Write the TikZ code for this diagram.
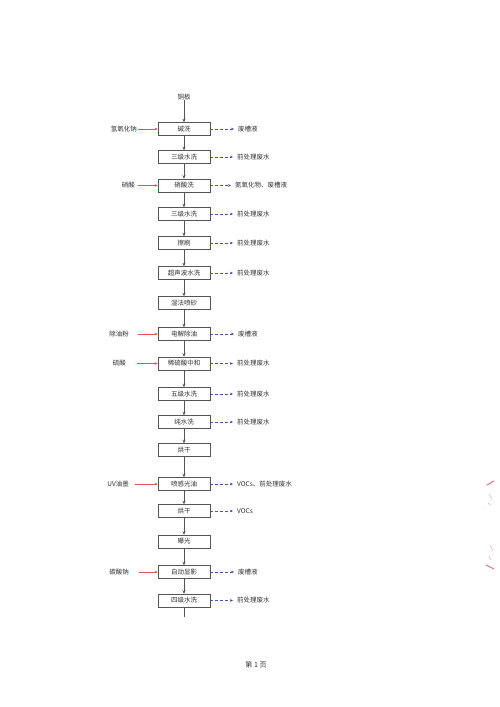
\documentclass[tikz,border=0pt]{standalone}
\usepackage{fontspec}
\setmainfont{Noto Sans CJK SC}
\usetikzlibrary{arrows.meta}
\definecolor{boxline}{HTML}{555555}
\definecolor{txt}{HTML}{333333}
\definecolor{inred}{HTML}{E05545}
\definecolor{outblue}{HTML}{4A55A0}
\definecolor{stamp}{HTML}{D9506E}
\begin{document}
\begin{tikzpicture}[x=1pt,y=-1pt,
  proc/.style={draw=boxline, line width=0.5pt, minimum width=52pt, minimum height=13pt,
    inner sep=0pt, font=\fontsize{6.5pt}{7pt}\selectfont, text=txt},
  lbl/.style={inner sep=0pt, font=\fontsize{6.5pt}{7pt}\selectfont, text=txt},
  flow/.style={draw=boxline, line width=0.5pt, -{Stealth[length=3.5pt,width=3pt]}},
  inarr/.style={draw=inred, line width=0.45pt, -{Stealth[length=3pt,width=2.6pt]}},
  outarr/.style={draw=outblue, densely dashed, line width=0.45pt, -{Stealth[length=3pt,width=2.6pt]}}]
\useasboundingbox (0,0) rectangle (500,707);
\fill[white] (0,0) rectangle (500,707);

% top input
\node[lbl] (cu) at (184,97) {铜板};

% process boxes
\node[proc] (b1)  at (184,129) {碱洗};
\node[proc] (b2)  at (184,157) {三级水洗};
\node[proc] (b3)  at (184,185.5) {硝酸洗};
\node[proc] (b4)  at (184,214) {三级水洗};
\node[proc] (b5)  at (184,243) {擦刷};
\node[proc] (b6)  at (184,273) {超声波水洗};
\node[proc] (b7)  at (184,303) {湿法喷砂};
\node[proc] (b8)  at (184,334) {电解除油};
\node[proc] (b9)  at (184,363.5) {稀硫酸中和};
\node[proc] (b10) at (184,394) {五级水洗};
\node[proc] (b11) at (184,422) {纯水洗};
\node[proc] (b12) at (184,450) {烘干};
\node[proc] (b13) at (184,484) {喷感光油};
\node[proc] (b14) at (184,511) {烘干};
\node[proc] (b15) at (184,541.5) {曝光};
\node[proc] (b16) at (184,572) {自动显影};
\node[proc] (b17) at (184,600.5) {四级水洗};
\coordinate (end) at (184,617);

% main flow
\draw[flow] (cu) -- (b1);
\foreach \a/\b in {b1/b2,b2/b3,b3/b4,b4/b5,b5/b6,b6/b7,b7/b8,b8/b9,b9/b10,b10/b11,b11/b12,b12/b13,b13/b14,b14/b15,b15/b16,b16/b17}
  \draw[flow] (\a) -- (\b);
\draw[draw=boxline, line width=0.5pt] (b17) -- (end);

% left inputs
\node[lbl, anchor=east] (i1) at (137,129) {氢氧化钠};
\node[lbl, anchor=east] (i3) at (135,185.5) {硝酸};
\node[lbl, anchor=east] (i8) at (129,334) {除油粉};
\node[lbl, anchor=east] (i9) at (126,363.5) {硫酸};
\node[lbl, anchor=east] (i13) at (129,484) {UV油墨};
\node[lbl, anchor=east] (i16) at (129,572) {碳酸钠};
\coordinate (t1) at (138,129);
\coordinate (t3) at (138,185.5);
\coordinate (t8) at (138,334);
\coordinate (t9) at (137,363.5);
\coordinate (t13) at (135,484);
\coordinate (t16) at (139,572);
\foreach \t/\b in {t1/b1,t3/b3,t8/b8,t9/b9,t13/b13,t16/b16}
  \draw[inarr] (\t) -- (\b.west);

% right outputs
\node[lbl, anchor=west] (o1)  at (238,129) {废槽液};
\node[lbl, anchor=west] (o2)  at (237,157) {前处理废水};
\node[lbl, anchor=west] (o3)  at (235,185.5) {氮氧化物、废槽液};
\node[lbl, anchor=west] (o4)  at (237,214) {前处理废水};
\node[lbl, anchor=west] (o5)  at (237,243) {前处理废水};
\node[lbl, anchor=west] (o6)  at (237,273) {前处理废水};
\node[lbl, anchor=west] (o8)  at (238,334) {废槽液};
\node[lbl, anchor=west] (o9)  at (237,363.5) {前处理废水};
\node[lbl, anchor=west] (o10) at (237,394) {前处理废水};
\node[lbl, anchor=west] (o11) at (237,422) {前处理废水};
\node[lbl, anchor=west] (o13) at (237,484) {VOCs、前处理废水};
\node[lbl, anchor=west] (o14) at (237,511) {VOCs};
\node[lbl, anchor=west] (o16) at (238,572) {废槽液};
\node[lbl, anchor=west] (o17) at (237,600.5) {前处理废水};
\foreach \b/\o in {b1/o1,b2/o2,b3/o3,b4/o4,b5/o5,b6/o6,b8/o8,b9/o9,b10/o10,b11/o11,b13/o13,b14/o14,b16/o16,b17/o17}
  \draw[outarr, shorten >=4pt] (\b.east) -- (\o.west);

% footer
\node[lbl, font=\fontsize{7pt}{8pt}\selectfont] (page) at (256,665) {第 1 页};

% partial seal marks at the right edge
\draw[stamp!80, line width=1pt, line cap=round] (487,485) -- (494,481);
\draw[stamp!80, line width=1pt, line cap=round] (486,565) -- (494,569);
\draw[stamp!45, line width=0.6pt, line cap=round] (489,494) -- (492,499) (488,503) -- (491,505) (490,545) -- (493,551) (489,556) -- (491,560);
\fill[stamp!40] (484,509) circle (0.5pt) (492,528) circle (0.4pt);
\end{tikzpicture}
\end{document}
